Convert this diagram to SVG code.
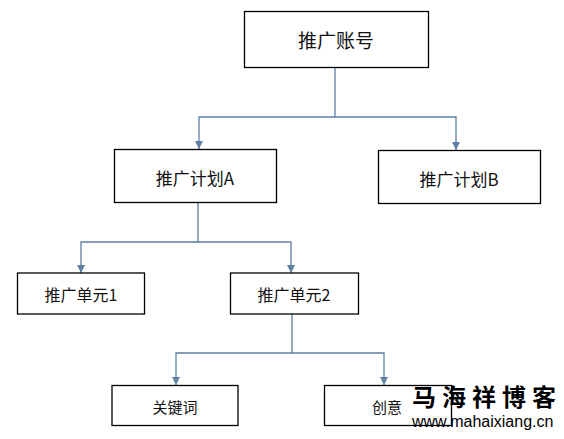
<svg xmlns="http://www.w3.org/2000/svg" width="564" height="439" viewBox="0 0 564 439">
<style>
.box{fill:#fff;stroke:#000;stroke-width:1.3}
.t{font-family:"Noto Sans CJK SC","Liberation Sans",sans-serif;fill:#111;text-anchor:middle;dominant-baseline:central}
.c{fill:none;stroke:#5f7fa3;stroke-width:1.3}
.ah{fill:#5f7fa3}
</style>
<rect width="564" height="439" fill="#fff"/>
<g id="connectors">
<path class="c" d="M335,67 V117 H199 V149"/>
<path class="c" d="M335,117 H456 V150"/>
<path class="c" d="M198,203 V242 H81 V273"/>
<path class="c" d="M198,242 H291 V273"/>
<path class="c" d="M292,314 V353 H176 V385"/>
<path class="c" d="M292,353 H384 V385"/>
<path class="ah" d="M195,141 H203 L199,149 Z"/>
<path class="ah" d="M452,142 H460 L456,150 Z"/>
<path class="ah" d="M77,265 H85 L81,273 Z"/>
<path class="ah" d="M287,265 H295 L291,273 Z"/>
<path class="ah" d="M172,377 H180 L176,385 Z"/>
<path class="ah" d="M380,377 H388 L384,385 Z"/>
</g>
<g id="n-account"><rect class="box" x="244.5" y="11.5" width="184" height="56"/><text class="t" x="336" y="39" font-size="19">推广账号</text></g>
<g id="n-planA"><rect class="box" x="114.5" y="149.5" width="162" height="53"/><text class="t" x="195" y="177" font-size="17">推广计划A</text></g>
<g id="n-planB"><rect class="box" x="378.5" y="150.5" width="162" height="53"/><text class="t" x="459" y="178" font-size="17">推广计划B</text></g>
<g id="n-unit1"><rect class="box" x="17.5" y="273" width="127" height="41"/><text class="t" x="81" y="294" font-size="16">推广单元1</text></g>
<g id="n-unit2"><rect class="box" x="230.5" y="273" width="128" height="41"/><text class="t" x="294" y="294" font-size="16">推广单元2</text></g>
<g id="n-keyword"><rect class="box" x="112" y="385.5" width="126" height="40"/><text class="t" x="175" y="406" font-size="15">关键词</text></g>
<g id="n-creative"><rect class="box" x="324.5" y="385.5" width="127" height="40"/><text class="t" x="387" y="406" font-size="15">创意</text></g>
<g id="watermark">
<text x="412" y="406" font-family="Noto Sans CJK SC,sans-serif" font-weight="bold" font-size="24" letter-spacing="6" fill="#000">马海祥博客</text>
<text x="412" y="427" font-family="Liberation Sans,Arial,sans-serif" font-size="16" fill="#000">www.mahaixiang.cn</text>
</g>
</svg>
